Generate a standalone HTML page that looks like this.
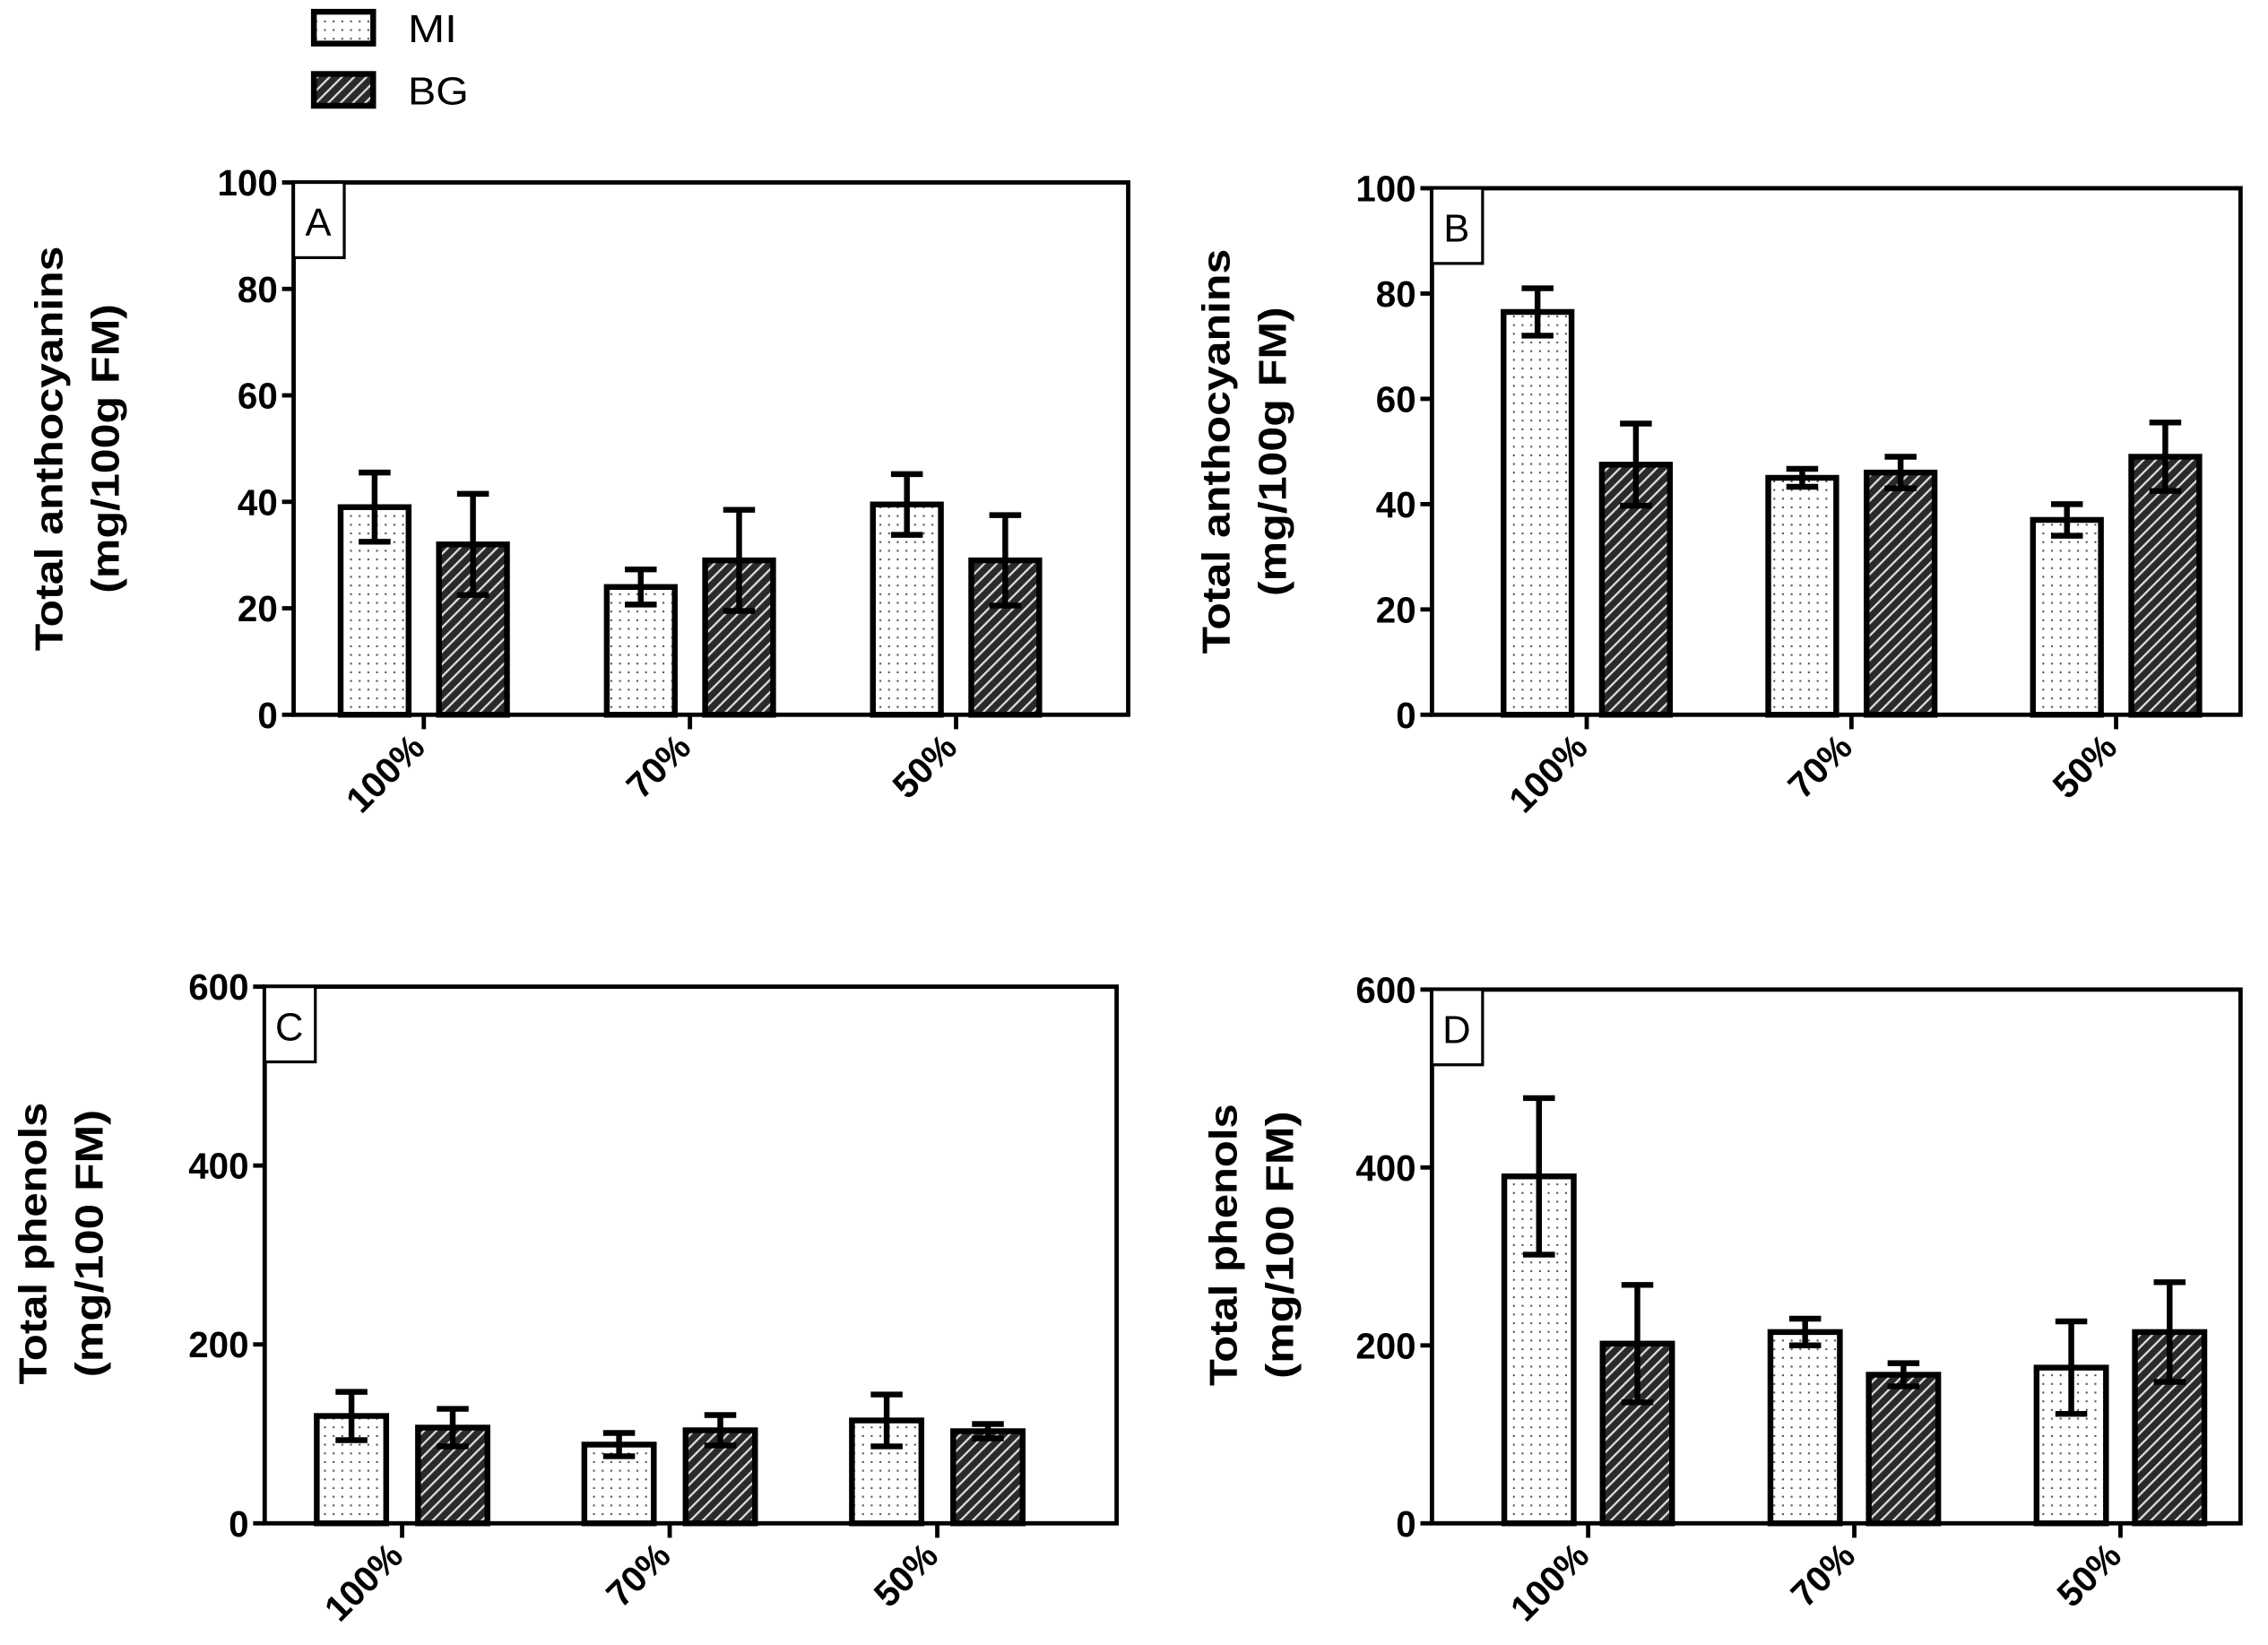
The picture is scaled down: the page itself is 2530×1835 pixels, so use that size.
<!DOCTYPE html>
<html><head><meta charset="utf-8"><style>
html,body{margin:0;padding:0;background:#fff;}
svg{display:block;font-family:"Liberation Sans",Arial,sans-serif;}
</style></head><body>
<svg id="fig" width="2530" height="1835" viewBox="0 0 1568 1137" xmlns="http://www.w3.org/2000/svg">
<defs>
<pattern id="dots" width="6" height="6" patternUnits="userSpaceOnUse"><rect width="6" height="6" fill="#fff"/><rect x="2" y="2" width="1.3" height="1.3" fill="#555"/></pattern>
<pattern id="hatch" width="6" height="6" patternUnits="userSpaceOnUse" patternTransform="rotate(45)"><rect width="6" height="6" fill="#2a2a2a"/><rect x="0" y="0" width="1.4" height="6" fill="#ddd"/></pattern>
</defs>
<g>
<rect x="217" y="8" width="41" height="22" fill="url(#dots)" stroke="#000" stroke-width="4"/>
<text x="282" y="29" font-size="27" textLength="34" lengthAdjust="spacingAndGlyphs">MI</text>
<rect x="217" y="51" width="41" height="22" fill="url(#hatch)" stroke="#000" stroke-width="4"/>
<text x="282" y="72" font-size="27" textLength="42" lengthAdjust="spacingAndGlyphs">BG</text>
</g>
</svg>
<script>
const categories = ["100%", "70%", "50%"];
const aMI = [39, 24, 39.5], aMIerr = [6.5, 3.3, 5.7];
const aBG = [32, 29, 29], aBGerr = [9.5, 9.5, 8.5];
const bMI = [76.5, 45, 37], bMIerr = [4.5, 1.7, 3];
const bBG = [47.5, 46, 49], bBGerr = [7.8, 3, 6.5];
const cMI = [120, 88, 115], cMIerr = [27, 13, 29];
const cBG = [107, 104, 103], cBGerr = [21, 17, 8];
const dMI = [390, 215, 175], dMIerr = [88, 15, 52];
const dBG = [202, 167, 215], dBGerr = [66, 13, 56];
const ticksAnth = [0, 20, 40, 60, 80, 100];
const ticksPhen = [0, 200, 400, 600];

const NS = "http://www.w3.org/2000/svg";
const svg = document.getElementById('fig');
function mk(tag, attrs, parent) {
  const e = document.createElementNS(NS, tag);
  for (const k in attrs) e.setAttribute(k, attrs[k]);
  (parent || svg).appendChild(e);
  return e;
}
function panel(p) {
  const g = mk('g', {});
  
  
  const y = v => p.bottom - (v / p.max) * (p.bottom - p.top);
  const cx = i => p.c0 + i * p.step;
  const series = [[p.mi, p.miErr, 'url(#dots)', -1, 'mi'], [p.bg, p.bgErr, 'url(#hatch)', 1, 'bg']];
  series.forEach(s => {
    s[0].forEach((v, i) => {
      const x = cx(i) + s[3] * p.off - p.w / 2;
      const r = mk('rect', {x: x, y: y(v), width: p.w, height: p.bottom - y(v), fill: s[2], stroke: '#000', 'stroke-width': 4}, g);
      
      
      const xm = x + p.w / 2, e = s[1][i];
      const eb = mk('path', {d: `M${xm},${y(v - e)}V${y(v + e)}M${xm - 11},${y(v + e)}H${xm + 11}M${xm - 11},${y(v - e)}H${xm + 11}`, stroke: '#000', 'stroke-width': 4, fill: 'none'}, g);
      
      
    });
  });
  const fr = mk('rect', {x: p.left, y: p.top, width: p.right - p.left, height: p.bottom - p.top, fill: 'none', stroke: '#000', 'stroke-width': 3}, g);
  
  
  const lb = mk('rect', {x: p.left, y: p.top, width: 35, height: 52, fill: '#fff', stroke: '#000', 'stroke-width': 2}, g);
  
  
  const lt = mk('text', {x: p.left + 17, y: p.top + 37, 'font-size': 27, 'text-anchor': 'middle'}, g);
  lt.textContent = p.label;
  
  
  p.ticks.forEach(t => {
    const tk = mk('line', {x1: p.left - 8, x2: p.left, y1: y(t), y2: y(t), stroke: '#000', 'stroke-width': 3}, g);
    
    
    const tl = mk('text', {x: p.left - 11, y: y(t) + 9, 'font-size': 25, 'font-weight': 'bold', 'text-anchor': 'end'}, g);
    tl.textContent = t;
    
    
  });
  categories.forEach((c, i) => {
    const tk = mk('line', {x1: cx(i), x2: cx(i), y1: p.bottom, y2: p.bottom + 10, stroke: '#000', 'stroke-width': 3}, g);
    
    
    const tx = cx(i) + 2, ty = p.bottom + 24;
    const tl = mk('text', {x: tx, y: ty, 'font-size': 25, 'font-weight': 'bold', 'text-anchor': 'end', transform: `rotate(-45 ${tx} ${ty})`}, g);
    tl.textContent = c;
    
    
  });
  const ym = (p.top + p.bottom) / 2 + p.titleDy;
  p.title.forEach((t, k) => {
    const tx = p.titleX + k * 39;
    const tt = mk('text', {x: tx, y: ym, 'font-size': 27, 'font-weight': 'bold', 'text-anchor': 'middle', textLength: p.titleLen[k], lengthAdjust: 'spacingAndGlyphs', transform: `rotate(-90 ${tx} ${ym})`}, g);
    tt.textContent = t;
    
    
  });
}
panel({label: 'A', left: 203, right: 780, top: 126, bottom: 494, max: 100, ticks: ticksAnth, c0: 293, step: 184, off: 34, w: 47, mi: aMI, miErr: aMIerr, bg: aBG, bgErr: aBGerr, title: ['Total anthocyanins', '(mg/100g FM)'], titleLen: [280, 200], titleX: 43, titleDy: 0});
panel({label: 'B', left: 990, right: 1549, top: 130, bottom: 494, max: 100, ticks: ticksAnth, c0: 1097, step: 183, off: 34, w: 47, mi: bMI, miErr: bMIerr, bg: bBG, bgErr: bBGerr, title: ['Total anthocyanins', '(mg/100g FM)'], titleLen: [280, 200], titleX: 850, titleDy: 0});
panel({label: 'C', left: 183, right: 772, top: 682, bottom: 1053, max: 600, ticks: ticksPhen, c0: 278, step: 185, off: 35, w: 48, mi: cMI, miErr: cMIerr, bg: cBG, bgErr: cBGerr, title: ['Total phenols', '(mg/100 FM)'], titleLen: [195, 185], titleX: 32, titleDy: -8});
panel({label: 'D', left: 990, right: 1549, top: 684, bottom: 1053, max: 600, ticks: ticksPhen, c0: 1098, step: 184, off: 34, w: 48, mi: dMI, miErr: dMIerr, bg: dBG, bgErr: dBGerr, title: ['Total phenols', '(mg/100 FM)'], titleLen: [195, 185], titleX: 855, titleDy: -8});
</script>
</body></html>
